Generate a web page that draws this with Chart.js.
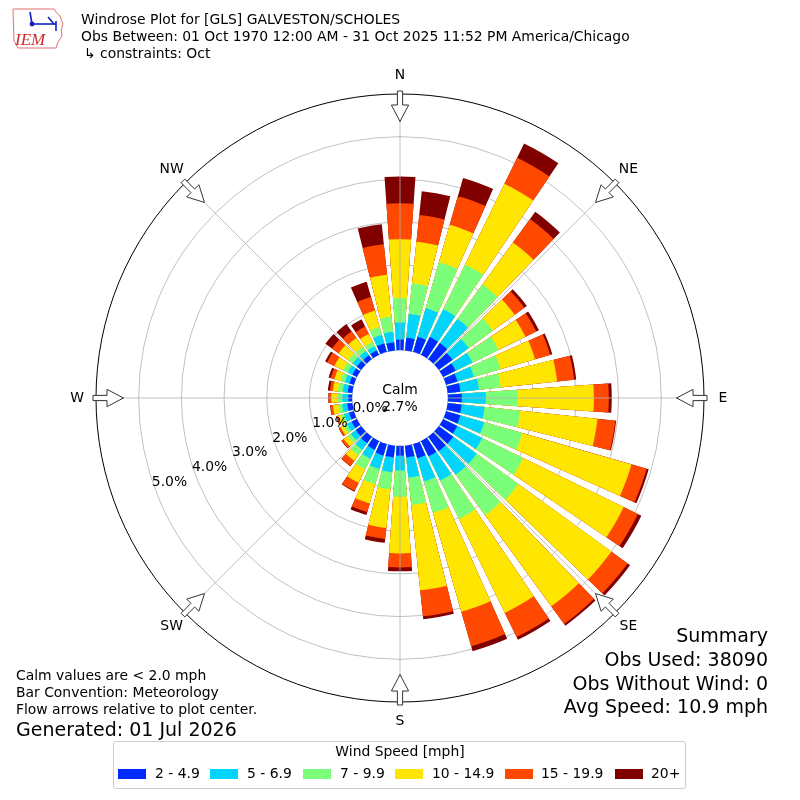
<!DOCTYPE html>
<html>
<head>
<meta charset="utf-8">
<script src="https://cdn.jsdelivr.net/npm/chart.js@4.4.1/dist/chart.umd.min.js"></script>
<style>
html,body{margin:0;padding:0;background:#fff;}
#wrap{position:relative;width:800px;height:800px;overflow:hidden;font-family:"DejaVu Sans",sans-serif;color:#000;}
#c{position:absolute;left:0;top:0;}
.t{position:absolute;white-space:nowrap;line-height:1;}
.s{font-size:13.9px;}
.b{font-size:19px;}
.r{text-align:right;right:32px;}
#legend{position:absolute;left:113px;top:741px;width:573px;height:48px;border:1px solid #cccccc;border-radius:3px;box-sizing:border-box;}
.sw{position:absolute;width:28px;height:10px;top:769px;}
</style>
</head>
<body>
<div id="wrap">
<canvas id="c" width="800" height="800"></canvas>

<svg style="position:absolute;left:10px;top:5px" width="58" height="46" viewBox="0 0 58 46">
  <path d="M3,4 L44,4 Q46,8 50,11 L53,19 Q50,25 52,31 L48,37 L46,43 L8,43 Q6,39 4,36 Z" fill="none" stroke="#e07070" stroke-width="1"/>
  <g stroke="#1020c0" stroke-width="1.6" fill="none">
    <line x1="20" y1="7" x2="22" y2="19"/>
    <line x1="22" y1="19" x2="46" y2="19"/>
    <line x1="38" y1="12" x2="44" y2="19"/>
    <line x1="46" y1="16" x2="46" y2="26"/>
  </g>
  <circle cx="22" cy="19" r="2.4" fill="#1020c0"/>
  <text x="5" y="40" font-family="Liberation Serif" font-style="italic" font-size="17" fill="#d02828">IEM</text>
</svg>

<div class="t s" style="left:81px;top:13px">Windrose Plot for [GLS] GALVESTON/SCHOLES</div>
<div class="t s" style="left:81px;top:30px">Obs Between: 01 Oct 1970 12:00 AM - 31 Oct 2025 11:52 PM America/Chicago</div>
<div class="t s" style="left:84px;top:47px">↳ constraints: Oct</div>

<div class="t b r" style="top:626px">Summary</div>
<div class="t b r" style="top:650px">Obs Used: 38090</div>
<div class="t b r" style="top:674px">Obs Without Wind: 0</div>
<div class="t b r" style="top:697px">Avg Speed: 10.9 mph</div>

<div class="t s" style="left:16px;top:669px">Calm values are &lt; 2.0 mph</div>
<div class="t s" style="left:16px;top:686px">Bar Convention: Meteorology</div>
<div class="t s" style="left:16px;top:703px">Flow arrows relative to plot center.</div>
<div class="t b" style="left:16px;top:720px">Generated: 01 Jul 2026</div>

<div id="legend"></div>
<div id="legendItems"></div>

<script>
// ---------------- data ----------------
const directions = [0,10,20,30,40,50,60,70,80,90,100,110,120,130,140,150,160,170,
                    180,190,200,210,220,230,240,250,260,270,280,290,300,310,320,330,340,350];
const compassNames = ['N','NE','E','SE','S','SW','W','NW'];
const compassDegrees = [0,45,90,135,180,225,270,315];
const speedBins = ['2 - 4.9','5 - 6.9','7 - 9.9','10 - 14.9','15 - 19.9','20+'];
const legendTitle = 'Wind Speed [mph]';
const calmPercent = 2.7;
const ringTicks = [0,1,2,3,4,5];
const outerRing = 6;

// percent of observations per direction, per speed bin
const bin2to5   = [0.25,0.30,0.37,0.47,0.47,0.40,0.33,0.28,0.30,0.33,0.33,0.35,0.37,0.42,0.42,0.40,0.35,0.28,
                   0.23,0.28,0.28,0.23,0.19,0.16,0.14,0.12,0.12,0.09,0.11,0.11,0.12,0.13,0.12,0.12,0.21,0.19];
const bin5to7   = [0.40,0.56,0.70,0.72,0.70,0.47,0.44,0.40,0.44,0.56,0.54,0.58,0.65,0.68,0.68,0.63,0.56,0.47,
                   0.35,0.35,0.33,0.23,0.19,0.14,0.12,0.12,0.12,0.14,0.12,0.11,0.12,0.12,0.12,0.11,0.21,0.25];
const bin7to10  = [0.57,0.72,1.12,1.17,1.00,0.70,0.68,0.65,0.51,0.75,0.84,0.93,1.07,1.21,1.17,1.00,0.77,0.65,
                   0.61,0.40,0.37,0.28,0.16,0.09,0.09,0.07,0.09,0.12,0.11,0.11,0.12,0.13,0.12,0.11,0.19,0.36];
const bin10to15 = [1.38,0.98,0.91,2.10,1.21,0.63,0.70,0.84,1.33,1.78,1.82,2.66,2.62,2.69,2.64,2.45,2.41,2.01,
                   1.33,0.91,0.47,0.35,0.16,0.12,0.08,0.08,0.13,0.14,0.12,0.15,0.23,0.28,0.26,0.21,0.40,0.98];
const bin15to20 = [0.84,0.63,0.70,0.68,0.68,0.28,0.28,0.37,0.40,0.35,0.42,0.37,0.37,0.47,0.51,0.63,0.84,0.61,
                   0.33,0.26,0.21,0.21,0.15,0.06,0.04,0.04,0.06,0.06,0.07,0.09,0.19,0.19,0.19,0.19,0.33,0.72];
const bin20plus = [0.63,0.56,0.44,0.37,0.21,0.07,0.07,0.05,0.05,0.07,0.02,0.05,0.09,0.07,0.05,0.07,0.12,0.07,
                   0.09,0.09,0.07,0.02,0.01,0.01,0.01,0.01,0.01,0.01,0.05,0.05,0.05,0.19,0.21,0.19,0.37,0.47];

// ---------------- styles ----------------
const binColors = ['#002aff','#00d4ff','#7bff7b','#ffe600','#ff4800','#800000'];
const barDeg = 8, gapDeg = 2;
const FONT = '"DejaVu Sans", sans-serif';

// ---------------- build datasets (stacked as cumulative arcs) ----------------
const series = [bin2to5, bin5to7, bin7to10, bin10to15, bin15to20, bin20plus];
const sectorLabels = [];
directions.forEach(d => { sectorLabels.push(d + '°', ''); });

const datasets = speedBins.map((name, k) => {
  const data = [];
  directions.forEach((d, i) => {
    let cum = 0;
    for (let j = 0; j <= k; j++) cum += series[j][i];
    data.push(+cum.toFixed(3), 0);
  });
  return {
    label: name,
    data: data,
    backgroundColor: c => (c.dataIndex % 2 === 0 ? binColors[k] : 'rgba(0,0,0,0)'),
    borderWidth: 0,
    angle: c => (c.dataIndex % 2 === 0 ? barDeg : gapDeg)
  };
});

// ---------------- decoration plugin ----------------
function polar(s, compassDeg, r) {
  const a = (compassDeg - 90) * Math.PI / 180;
  return [s.xCenter + r * Math.cos(a), s.yCenter + r * Math.sin(a)];
}
const decor = {
  id: 'windroseDecor',
  afterDatasetsDraw(chart) {
    const s = chart.scales.r, ctx = chart.ctx;
    const r0 = s.getDistanceFromCenterForValue(0);
    const R = s.getDistanceFromCenterForValue(outerRing);
    ctx.save();
    ctx.fillStyle = '#ffffff';
    ctx.beginPath();
    ctx.arc(s.xCenter, s.yCenter, r0, 0, Math.PI * 2);
    ctx.fill();
    ctx.strokeStyle = '#b0b0b0';
    ctx.lineWidth = 0.8;
    compassDegrees.forEach(deg => {
      const p1 = polar(s, deg, r0), p2 = polar(s, deg, R);
      ctx.beginPath(); ctx.moveTo(p1[0], p1[1]); ctx.lineTo(p2[0], p2[1]); ctx.stroke();
    });
    ctx.restore();
  },
  afterDraw(chart) {
    const s = chart.scales.r, ctx = chart.ctx;
    const R = s.getDistanceFromCenterForValue(outerRing);
    ctx.save();
    ctx.fillStyle = '#000';
    ctx.textAlign = 'center';
    ctx.textBaseline = 'middle';
    ctx.font = '13.9px ' + FONT;
    // calm text
    ctx.fillText('Calm', s.xCenter, s.yCenter - 8);
    ctx.fillText(calmPercent.toFixed(1) + '%', s.xCenter, s.yCenter + 9);
    // radial tick labels
    ringTicks.forEach(v => {
      const p = polar(s, 250, s.getDistanceFromCenterForValue(v) - 16);
      ctx.fillText(v.toFixed(1) + '%', p[0], p[1]);
    });
    // flow arrows
    compassDegrees.forEach(deg => {
      const a = (deg - 90) * Math.PI / 180;
      const ux = Math.cos(a), uy = Math.sin(a), vx = -uy, vy = ux;
      const pts = [[R + 3, -2.6], [R - 11, -2.6], [R - 11, -8.6], [R - 27.5, 0],
                   [R - 11, 8.6], [R - 11, 2.6], [R + 3, 2.6]];
      ctx.beginPath();
      pts.forEach((p, i) => {
        const x = s.xCenter + p[0] * ux + p[1] * vx;
        const y = s.yCenter + p[0] * uy + p[1] * vy;
        if (i === 0) ctx.moveTo(x, y); else ctx.lineTo(x, y);
      });
      ctx.closePath();
      ctx.fillStyle = '#ffffff';
      ctx.fill();
      ctx.strokeStyle = '#333333';
      ctx.lineWidth = 1;
      ctx.stroke();
    });
    // compass labels
    ctx.fillStyle = '#000';
    compassDegrees.forEach((deg, i) => {
      const p = polar(s, deg, R + 19);
      ctx.fillText(compassNames[i], p[0], p[1]);
    });
    ctx.restore();
  }
};

new Chart(document.getElementById('c'), {
  type: 'polarArea',
  data: { labels: sectorLabels, datasets: datasets },
  options: {
    responsive: false,
    animation: false,
    layout: { padding: { left: 96, right: 96, top: 94, bottom: 98 } },
    plugins: { legend: { display: false }, tooltip: { enabled: false } },
    scales: {
      r: {
        type: 'radialLinear',
        min: -1.12,
        max: outerRing,
        startAngle: -barDeg / 2,
        z: 1,
        afterBuildTicks: axis => { axis.ticks = ringTicks.concat([outerRing]).map(v => ({ value: v })); },
        ticks: { display: false },
        angleLines: { display: false },
        pointLabels: { display: false },
        grid: {
          circular: true,
          color: c => (c.tick && (c.tick.value === 0 || c.tick.value === outerRing) ? '#000000' : '#b0b0b0'),
          lineWidth: c => (c.tick && (c.tick.value === 0 || c.tick.value === outerRing) ? 1 : 0.8)
        }
      }
    }
  },
  plugins: [decor]
});

// ---------------- HTML legend ----------------
(function () {
  const wrap = document.getElementById('wrap');
  const title = document.createElement('div');
  title.className = 't s';
  title.style.left = '0px'; title.style.width = '800px'; title.style.textAlign = 'center';
  title.style.top = '745px';
  title.textContent = legendTitle;
  wrap.appendChild(title);
  const swLeft = [118, 210, 303, 395, 505, 615];
  const txLeft = [155, 247, 340, 432, 541, 651];
  speedBins.forEach((name, i) => {
    const sw = document.createElement('div');
    sw.className = 'sw';
    sw.style.left = swLeft[i] + 'px';
    sw.style.background = binColors[i];
    wrap.appendChild(sw);
    const tx = document.createElement('div');
    tx.className = 't s';
    tx.style.left = txLeft[i] + 'px';
    tx.style.top = '767px';
    tx.textContent = name;
    wrap.appendChild(tx);
  });
})();
</script>
</div>
</body>
</html>
